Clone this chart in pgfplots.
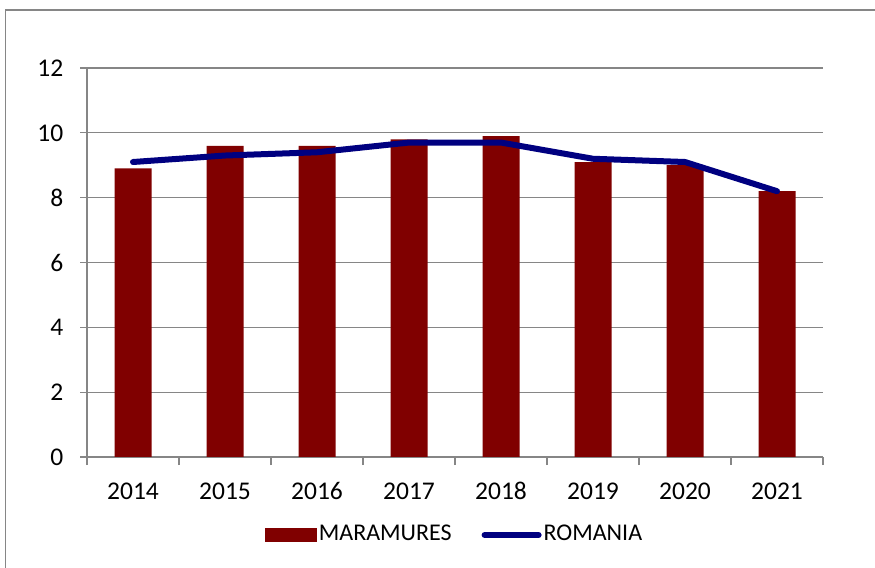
\documentclass[border=0pt]{standalone}
\usepackage{fontspec}
\setmainfont{Carlito}
\usepackage{pgfplots}
\pgfplotsset{compat=1.18}
\definecolor{barred}{RGB}{128,0,0}
\definecolor{linenavy}{RGB}{0,0,128}
\definecolor{gridgray}{RGB}{134,134,134}
\begin{document}
\fontsize{25.5bp}{30bp}\selectfont
\begin{tikzpicture}
\useasboundingbox (0,0) rectangle (875bp,568bp);
\draw[gridgray, line width=1.2bp] (5.5bp,-20bp) rectangle (900bp,558bp);
\begin{axis}[
  at={(87bp,111bp)}, anchor=south west,
  scale only axis, width=736bp, height=389bp,
  xmin=-0.5, xmax=7.5, ymin=0, ymax=12,
  axis x line*=bottom, axis y line*=left,
  axis line style={gridgray, line width=1.2bp},
  xtick={0,...,7},
  xticklabels={2014,2015,2016,2017,2018,2019,2020,2021},
  minor xtick={-0.5,0.5,...,7.5},
  ytick={0,2,...,12},
  ymajorgrids, major grid style={gridgray, line width=1.2bp},
  tick align=outside,
  x tick style={draw=none},
  minor x tick style={draw=gridgray, line width=1.2bp},
  minor tick length=8bp,
  y tick style={gridgray, line width=1.2bp},
  major tick length=7bp,
  tick label style={font=\fontsize{25.5bp}{30bp}\selectfont, text=black},
  /pgf/number format/assume math mode=true,
  xticklabel style={anchor=north, yshift=-10bp, text height=17bp, text depth=0bp},
  yticklabel style={xshift=-8bp},
  legend columns=2,
  legend style={at={(0.4993,-0.2005)}, anchor=center, draw=none, fill=none,
    font=\fontsize{24bp}{28bp}\selectfont,
    /tikz/every even column/.append style={column sep=28bp}},
  legend cell align=left,
]
\addplot[ybar, bar width=37bp, fill=barred, draw=none,
  legend image code/.code={\fill[barred] (0bp,-7bp) rectangle (52bp,7bp);}]
  coordinates {(0,8.9) (1,9.6) (2,9.6) (3,9.8) (4,9.9) (5,9.1) (6,9.0) (7,8.2)};
\addlegendentry{MARAMURES}
\addplot[linenavy, line width=6bp, line cap=round, line join=round, mark=none,
  legend image code/.code={\draw[linenavy, line width=6bp, line cap=round] (0bp,0bp) -- (54bp,0bp);}]
  coordinates {(0,9.1) (1,9.3) (2,9.4) (3,9.7) (4,9.7) (5,9.2) (6,9.1) (7,8.2)};
\addlegendentry{ROMANIA}
\end{axis}
\end{tikzpicture}
\end{document}
